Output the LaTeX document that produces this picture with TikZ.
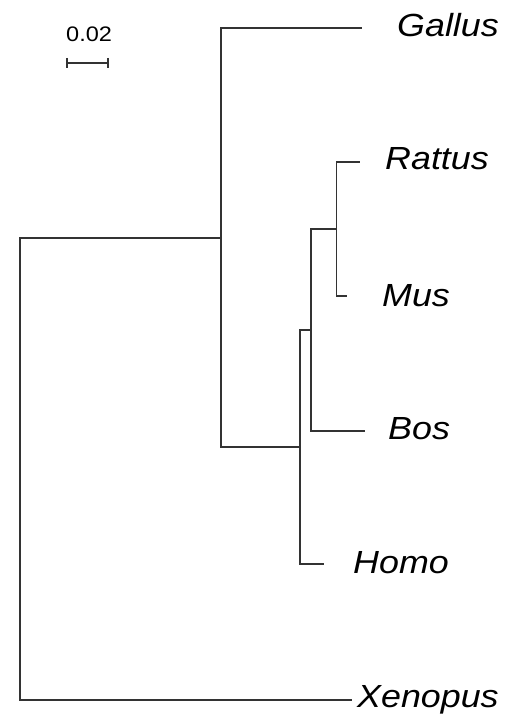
\documentclass[tikz,border=0pt]{standalone}
\usepackage{fontspec}
\setmainfont{Liberation Sans}
\newfontfamily\taxfont[FakeStretch=1.12]{Liberation Sans}
\begin{document}
\begin{tikzpicture}[x=1pt,y=-1pt,
    branch/.style={line width=1.1pt,black!80},
    taxon/.style={anchor=base west,inner sep=0pt,font=\taxfont\itshape\fontsize{32}{36}\selectfont}]
    \useasboundingbox (0,0) rectangle (517,719);
    % inner nodes of the tree
    \coordinate (root) at (20,469);
    \coordinate (nA) at (221,238);
    \coordinate (nB) at (300,447);
    \coordinate (nC) at (311,330);
    \coordinate (nD) at (336.5,229);
    % branch tips
    \coordinate (tGallus) at (362,28);
    \coordinate (tRattus) at (360,162);
    \coordinate (tMus) at (347,296);
    \coordinate (tBos) at (365,431);
    \coordinate (tHomo) at (324,564);
    \coordinate (tXenopus) at (352,700);
    \draw[branch] (root) |- (nA);
    \draw[branch] (root) |- (tXenopus);
    \draw[branch] (nA) |- (tGallus);
    \draw[branch] (nA) |- (nB);
    \draw[branch] (nB) |- (nC);
    \draw[branch] (nB) |- (tHomo);
    \draw[branch] (nC) |- (nD);
    \draw[branch] (nC) |- (tBos);
    \draw[branch] (nD) |- (tRattus);
    \draw[branch] (nD) |- (tMus);
    % taxon names
    \node[taxon] (Gallus) at (397,37) {Gallus};
    \node[taxon] (Rattus) at (385,170) {Rattus};
    \node[taxon] (Mus) at (382,306) {Mus};
    \node[taxon] (Bos) at (388,439) {Bos};
    \node[taxon] (Homo) at (353,573) {Homo};
    \node[taxon] (Xenopus) at (357,707) {Xenopus};
    % scale bar
    \coordinate (sL) at (67,63);
    \coordinate (sR) at (108,63);
    \draw[branch] (sL) -- (sR);
    \draw[branch] (sL) ++(0,-5) -- ++(0,10);
    \draw[branch] (sR) ++(0,-5) -- ++(0,10);
    \node[anchor=base west,inner sep=0pt,font=\taxfont\fontsize{21}{24}\selectfont] (scale) at (66,42) {0.02};
\end{tikzpicture}
\end{document}
